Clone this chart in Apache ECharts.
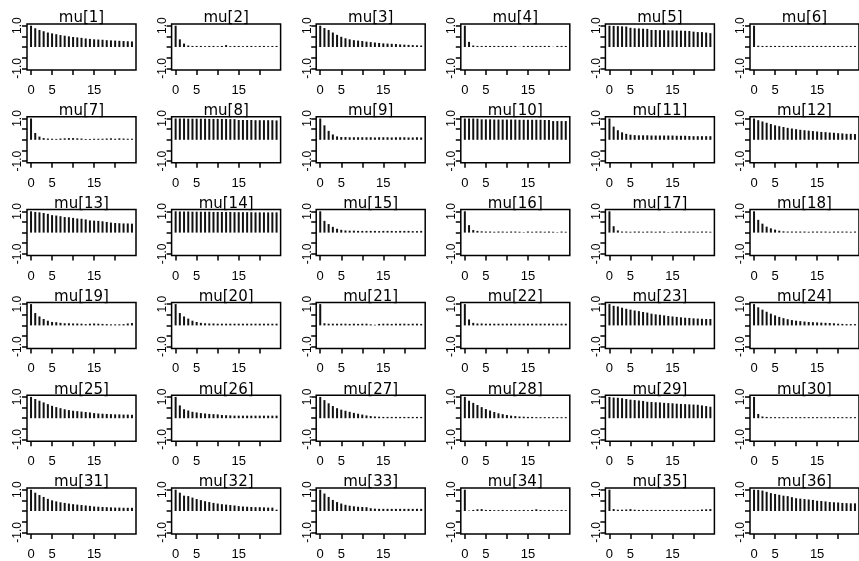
<!DOCTYPE html>
<html>
<head>
<meta charset="utf-8">
<script src="https://cdn.jsdelivr.net/npm/echarts@6/dist/echarts.min.js"></script>
<style>html,body{margin:0;padding:0;background:#fff}#c{width:859px;height:561px}</style>
</head>
<body>
<div id="c"></div>
<script>
const lags = [0,1,2,3,4,5,6,7,8,9,10,11,12,13,14,15,16,17,18,19,20,21,22,23,24];
const titles = ['mu[1]','mu[2]','mu[3]','mu[4]','mu[5]','mu[6]','mu[7]','mu[8]','mu[9]','mu[10]','mu[11]','mu[12]',
  'mu[13]','mu[14]','mu[15]','mu[16]','mu[17]','mu[18]','mu[19]','mu[20]','mu[21]','mu[22]','mu[23]','mu[24]',
  'mu[25]','mu[26]','mu[27]','mu[28]','mu[29]','mu[30]','mu[31]','mu[32]','mu[33]','mu[34]','mu[35]','mu[36]'];
const xTicks = [0,5,10,15,20];
const xTickLabels = [0,5,15];
const yTicks = [-1,-0.5,0,0.5,1];
const yTickLabels = [-1,1];

const acf_mu1 = [1,0.88,0.8,0.74,0.68,0.64,0.6,0.56,0.53,0.5,0.47,0.45,0.43,0.4,0.38,0.36,0.35,0.34,0.32,0.31,0.3,0.29,0.28,0.27,0.26];
const acf_mu2 = [1,0.36,0.16,0.07,0.05,0.05,0.05,0.04,0.05,0.05,0.04,0.05,0.09,0.04,0.05,0.05,0.04,0.05,0.05,0.04,0.05,0.05,0.04,0.05,0.05];
const acf_mu3 = [1,0.89,0.8,0.68,0.57,0.48,0.41,0.36,0.32,0.3,0.28,0.25,0.23,0.21,0.19,0.17,0.16,0.15,0.14,0.12,0.11,0.1,0.09,0.08,0.07];
const acf_mu4 = [1,0.24,0.07,0.05,0.05,0.05,0.05,0.05,0.05,0.05,0.05,0.05,0.05,0.01,0.05,0.05,0.05,0.05,0.05,0.05,0.05,0.01,0.05,0.05,0.05];
const acf_mu5 = [1,0.99,0.98,0.97,0.96,0.9,0.88,0.87,0.86,0.85,0.8,0.8,0.79,0.79,0.78,0.78,0.77,0.77,0.76,0.75,0.72,0.7,0.7,0.68,0.65];
const acf_mu6 = [1,0.06,0.05,0.05,0.05,0.05,0.05,0.05,0.05,0.05,0.05,0.05,0.05,0.05,0.05,0.05,0.05,0.05,0.05,0.05,0.05,0.05,0.05,0.05,0.05];
const acf_mu7 = [1,0.32,0.15,0.08,0.06,0.05,0.04,0.06,0.07,0.08,0.08,0.07,0.06,0.04,0.04,0.05,0.05,0.05,0.06,0.07,0.05,0.07,0.06,0.05,0.05];
const acf_mu8 = [1,1,1,0.99,0.99,0.99,0.99,0.99,0.98,0.98,0.98,0.98,0.98,0.97,0.97,0.93,0.93,0.93,0.93,0.92,0.92,0.92,0.92,0.92,0.91];
const acf_mu9 = [1,0.68,0.42,0.25,0.16,0.13,0.13,0.12,0.12,0.12,0.12,0.12,0.12,0.11,0.12,0.12,0.12,0.11,0.12,0.12,0.12,0.11,0.11,0.12,0.11];
const acf_mu10 = [1,1,1,0.99,0.96,0.96,0.96,0.95,0.95,0.95,0.95,0.95,0.95,0.94,0.94,0.94,0.94,0.94,0.94,0.93,0.93,0.88,0.88,0.88,0.88];
const acf_mu11 = [1,0.62,0.45,0.35,0.28,0.24,0.22,0.21,0.21,0.21,0.2,0.2,0.2,0.2,0.2,0.2,0.19,0.19,0.19,0.18,0.17,0.17,0.17,0.17,0.17];
const acf_mu12 = [1,0.92,0.86,0.8,0.74,0.68,0.64,0.6,0.56,0.53,0.5,0.47,0.45,0.43,0.41,0.39,0.37,0.36,0.34,0.33,0.31,0.3,0.28,0.28,0.27];
const acf_mu13 = [1,0.97,0.95,0.92,0.88,0.82,0.8,0.77,0.73,0.72,0.69,0.66,0.65,0.62,0.57,0.56,0.55,0.53,0.5,0.47,0.45,0.44,0.43,0.43,0.42];
const acf_mu14 = [1,0.99,0.99,0.99,0.98,0.98,0.98,0.98,0.98,0.97,0.97,0.97,0.97,0.97,0.96,0.96,0.96,0.96,0.96,0.95,0.95,0.95,0.95,0.95,0.95];
const acf_mu15 = [1,0.55,0.4,0.27,0.18,0.13,0.1,0.09,0.09,0.08,0.08,0.08,0.08,0.08,0.07,0.08,0.08,0.08,0.07,0.08,0.08,0.08,0.07,0.07,0.08];
const acf_mu16 = [1,0.35,0.12,0.08,0.06,0.05,0.05,0.04,0.05,0.05,0.04,0.05,0.05,0.04,0.02,0.05,0.04,0.05,0.05,0.04,0.05,0.04,0.02,0.05,0.04];
const acf_mu17 = [1,0.3,0.1,0.05,0.05,0.04,0.05,0.05,0.04,0.05,0.05,0.04,0.05,0.05,0.02,0.04,0.05,0.05,0.04,0.05,0.05,0.04,0.05,0.05,0.04];
const acf_mu18 = [1,0.6,0.42,0.28,0.2,0.14,0.09,0.06,0.05,0.05,0.05,0.05,0.05,0.04,0.05,0.05,0.05,0.05,0.04,0.05,0.05,0.05,0.05,0.04,0.05];
const acf_mu19 = [1,0.58,0.42,0.3,0.22,0.16,0.15,0.12,0.1,0.1,0.09,0.09,0.08,0.06,0.08,0.09,0.08,0.07,0.06,0.05,0.05,0.05,0.06,0.09,0.11];
const acf_mu20 = [1,0.58,0.42,0.32,0.22,0.16,0.12,0.1,0.09,0.09,0.08,0.08,0.08,0.08,0.08,0.08,0.08,0.08,0.08,0.08,0.08,0.08,0.08,0.08,0.08];
const acf_mu21 = [1,0.1,0.08,0.08,0.08,0.08,0.08,0.07,0.08,0.07,0.08,0.08,0.05,0.03,0.07,0.08,0.08,0.07,0.08,0.08,0.08,0.07,0.08,0.08,0.07];
const acf_mu22 = [1,0.28,0.12,0.09,0.09,0.08,0.08,0.08,0.08,0.08,0.08,0.08,0.08,0.08,0.08,0.08,0.08,0.08,0.08,0.08,0.08,0.08,0.08,0.08,0.08];
const acf_mu23 = [1,0.92,0.89,0.83,0.78,0.74,0.7,0.67,0.63,0.6,0.55,0.52,0.5,0.47,0.44,0.42,0.4,0.38,0.36,0.35,0.33,0.32,0.31,0.3,0.3];
const acf_mu24 = [1,0.85,0.74,0.64,0.55,0.47,0.4,0.34,0.29,0.25,0.22,0.2,0.18,0.16,0.15,0.14,0.13,0.12,0.11,0.1,0.08,0.07,0.06,0.06,0.06];
const acf_mu25 = [1,0.9,0.82,0.74,0.66,0.58,0.52,0.47,0.42,0.38,0.35,0.33,0.31,0.29,0.27,0.24,0.22,0.21,0.2,0.19,0.18,0.18,0.17,0.17,0.16];
const acf_mu26 = [1,0.6,0.42,0.36,0.3,0.27,0.24,0.22,0.2,0.19,0.18,0.15,0.14,0.13,0.12,0.12,0.12,0.12,0.12,0.12,0.12,0.12,0.12,0.12,0.12];
const acf_mu27 = [1,0.85,0.7,0.57,0.47,0.4,0.35,0.3,0.25,0.21,0.17,0.13,0.1,0.08,0.07,0.06,0.06,0.06,0.06,0.06,0.06,0.06,0.06,0.06,0.06];
const acf_mu28 = [1,0.82,0.72,0.62,0.52,0.43,0.36,0.29,0.23,0.19,0.15,0.12,0.1,0.08,0.07,0.06,0.06,0.05,0.05,0.05,0.05,0.05,0.05,0.05,0.05];
const acf_mu29 = [1,0.97,0.96,0.94,0.9,0.87,0.85,0.83,0.81,0.77,0.76,0.75,0.74,0.72,0.71,0.7,0.68,0.67,0.66,0.65,0.64,0.63,0.6,0.57,0.54];
const acf_mu30 = [1,0.2,0.08,0.06,0.05,0.05,0.05,0.05,0.05,0.05,0.05,0.05,0.05,0.05,0.05,0.05,0.05,0.05,0.05,0.05,0.05,0.05,0.05,0.05,0.05];
const acf_mu31 = [1,0.86,0.75,0.66,0.57,0.5,0.45,0.41,0.38,0.35,0.32,0.3,0.28,0.26,0.24,0.21,0.2,0.19,0.18,0.17,0.16,0.16,0.15,0.15,0.15];
const acf_mu32 = [1,0.86,0.72,0.7,0.63,0.56,0.51,0.46,0.42,0.38,0.35,0.32,0.3,0.28,0.26,0.23,0.21,0.2,0.19,0.18,0.18,0.17,0.16,0.16,0.06];
const acf_mu33 = [1,0.82,0.66,0.52,0.42,0.35,0.29,0.25,0.22,0.2,0.19,0.18,0.13,0.11,0.1,0.1,0.1,0.1,0.1,0.1,0.1,0.1,0.1,0.1,0.1];
const acf_mu34 = [1,0.02,0.05,0.08,0.09,0.05,0.05,0.04,0.04,0.05,0.04,0.04,0.05,0.04,0.05,0.04,0.05,0.08,0.05,0.04,0.05,0.04,0.04,0.05,0.04];
const acf_mu35 = [1,0.09,0.06,0.06,0.07,0.09,0.06,0.05,0.05,0.05,0.05,0.05,0.05,0.05,0.05,0.05,0.05,0.05,0.05,0.05,0.05,0.05,0.07,0.08,0.09];
const acf_mu36 = [1,0.99,0.96,0.9,0.84,0.8,0.76,0.72,0.7,0.65,0.6,0.58,0.56,0.54,0.52,0.48,0.47,0.45,0.42,0.41,0.4,0.38,0.37,0.36,0.36];

const allAcf = [acf_mu1,acf_mu2,acf_mu3,acf_mu4,acf_mu5,acf_mu6,acf_mu7,acf_mu8,acf_mu9,acf_mu10,acf_mu11,acf_mu12,
  acf_mu13,acf_mu14,acf_mu15,acf_mu16,acf_mu17,acf_mu18,acf_mu19,acf_mu20,acf_mu21,acf_mu22,acf_mu23,acf_mu24,
  acf_mu25,acf_mu26,acf_mu27,acf_mu28,acf_mu29,acf_mu30,acf_mu31,acf_mu32,acf_mu33,acf_mu34,acf_mu35,acf_mu36];

const chart = echarts.init(document.getElementById('c'), null, {renderer: 'canvas'});
const grids = [], xAxes = [], yAxes = [], series = [], titleOpts = [];
const BOX_L = 27, BOX_T = 24, COL_STEP = 144.6, ROW_STEP = 92.8, BOX_W = 109, BOX_H = 46;
const FONT = 'Liberation Sans, Arial, sans-serif';
for (let i = 0; i < 36; i++) {
  const r = Math.floor(i / 6), c = i % 6;
  const left = BOX_L + COL_STEP * c, top = BOX_T + ROW_STEP * r;
  grids.push({left: left, top: top, width: BOX_W, height: BOX_H, show: true,
    borderColor: '#000', borderWidth: 1.5, backgroundColor: 'transparent', containLabel: false});
  xAxes.push({type: 'value', gridIndex: i, min: -0.96, max: 24.96, position: 'bottom',
    splitLine: {show: false}, axisLine: {show: false, onZero: false},
    axisTick: {show: true, inside: false, length: 5, lineStyle: {color: '#000', width: 1.5}, customValues: xTicks},
    axisLabel: {show: true, margin: 14, fontSize: 13, fontFamily: FONT, color: '#000', customValues: xTickLabels,
      formatter: v => String(v)}});
  yAxes.push({type: 'value', gridIndex: i, min: -1.08, max: 1.08, position: 'left',
    splitLine: {show: false}, axisLine: {show: false, onZero: false},
    axisTick: {show: true, inside: false, length: 5, lineStyle: {color: '#000', width: 1.5}, customValues: yTicks},
    axisLabel: {show: true, margin: 3, rotate: 90, fontSize: 12, fontFamily: FONT, color: '#000', customValues: yTickLabels,
      formatter: v => Number(v).toFixed(1)}});
  series.push({type: 'bar', xAxisIndex: i, yAxisIndex: i, barWidth: 2, silent: true, animation: false,
    itemStyle: {color: '#111'}, data: lags.map((l, k) => [l, allAcf[i][k]])});
  titleOpts.push({text: titles[i], left: left + BOX_W / 2, top: top - 13, textAlign: 'center',
    textStyle: {fontFamily: 'DejaVu Sans, sans-serif', fontSize: 15, fontWeight: 'normal', color: '#000'}, padding: 0});
}
chart.setOption({animation: false, backgroundColor: '#fff', title: titleOpts, grid: grids, xAxis: xAxes, yAxis: yAxes, series: series});
</script>
</body>
</html>
